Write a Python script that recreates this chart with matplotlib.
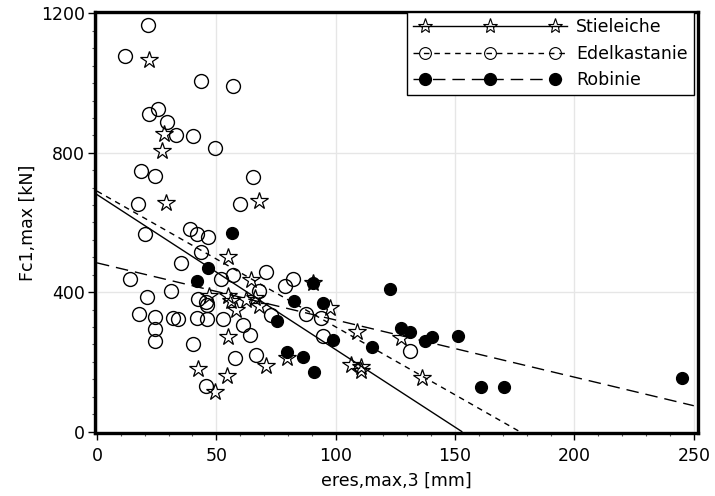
#!/usr/bin/env python3
import numpy as np
import matplotlib
matplotlib.use('Agg')
import matplotlib.pyplot as plt
from matplotlib.lines import Line2D
from matplotlib.legend_handler import HandlerLine2D
from matplotlib.ticker import MultipleLocator

# Stieleiche (open stars)
stiel_x = [21.8, 28.2, 27.1, 29.0, 67.9, 55.0, 46.8, 54.9, 56.3, 58.3, 64.6, 62.5,
           66.2, 68.0, 54.9, 42.2, 54.4, 49.5, 71.0, 79.8, 90.5, 97.8, 109.0, 106.4,
           110.4, 110.4, 127.5, 136.1]
stiel_y = [1065, 853, 804, 655, 662, 502, 388, 390, 375, 349, 435, 378,
           382, 359, 270, 178, 160, 112, 187, 211, 426, 354, 286, 192,
           185, 174, 268, 154]

# Edelkastanie (open circles)
edel_x = [21.25, 11.9, 43.5, 56.8, 25.5, 21.8, 29.4, 33.3, 40.4, 49.5, 18.5, 24.2,
          65.5, 17.2, 60.0, 19.9, 39.0, 41.7, 46.7, 43.5, 35.1, 13.9, 31.2, 20.8,
          52.0, 57.0, 70.8, 42.5, 45.5, 46.0, 17.6, 24.3, 32.0, 34.0, 41.7, 46.1,
          52.9, 24.4, 24.2, 40.4, 45.5, 61.3, 63.9, 57.6, 66.7, 68.0, 72.9, 78.8,
          81.9, 87.5, 94.0, 94.6, 131.0]
edel_y = [1166, 1078, 1006, 991, 927, 911, 888, 850, 848, 815, 747, 734,
          731, 653, 653, 567, 580, 566, 559, 516, 483, 437, 402, 386,
          438, 450, 458, 380, 372, 362, 338, 330, 326, 324, 326, 324,
          324, 294, 259, 251, 130, 305, 278, 211, 220, 402, 335, 419,
          437, 337, 326, 275, 232]

# Robinie (filled circles)
rob_x = [56.4, 46.5, 41.7, 75.4, 90.5, 82.6, 94.8, 98.7, 79.7, 86.2, 91.1, 115.2,
         122.9, 127.4, 131.2, 137.3, 140.4, 151.4, 160.9, 170.4, 245.1]
rob_y = [570, 470, 433, 316, 426, 374, 368, 263, 229, 214, 170, 243,
         410, 296, 287, 259, 271, 275, 127, 127, 154]

# regression lines (end points)
stiel_fit_x = [0, 152.8]
stiel_fit_y = [680, 0]
edel_fit_x = [0, 177]
edel_fit_y = [690, 0]
rob_fit_x = [0, 250]
rob_fit_y = [484, 74]


class HandlerLineOverhang(HandlerLine2D):
    # line runs a bit past the outer markers, like in the original legend
    def create_artists(self, legend, orig_handle, xdescent, ydescent, width, height, fontsize, trans):
        pad = 0.7 * fontsize
        xdata = np.array([0, pad, width / 2, width - pad, width]) - xdescent
        ydata = np.full_like(xdata, (height - ydescent) / 2)
        legline = Line2D(xdata, ydata)
        self.update_prop(legline, orig_handle, legend)
        legline.set_markevery([1, 2, 3])
        legline.set_transform(trans)
        return [legline]


plt.rc('font', family='DejaVu Sans', size=12.5)

fig = plt.figure(figsize=(7.15, 4.96), dpi=100)
ax = fig.add_axes([0.133, 0.127, 0.843, 0.849])

shortDash = (4, 3.5)
longDash = (9, 5)

# fit lines
ax.plot(stiel_fit_x, stiel_fit_y, color='black', lw=1.0, zorder=2)
ax.plot(edel_fit_x, edel_fit_y, color='black', lw=1.0, dashes=shortDash, zorder=2)
ax.plot(rob_fit_x, rob_fit_y, color='black', lw=1.0, dashes=longDash, zorder=2)

# points
ax.plot(edel_x, edel_y, ls='none', marker='o', ms=10, mfc='none', mec='black', mew=1.0, zorder=3)
ax.plot(rob_x, rob_y, ls='none', marker='o', ms=8.5, mfc='black', mec='black', mew=1.0, zorder=4)
ax.plot(stiel_x, stiel_y, ls='none', marker='*', ms=13, mfc='none', mec='black', mew=0.9, zorder=5)

ax.set_xlim(-0.8, 251.7)
ax.set_ylim(-4.3, 1204.3)
ax.xaxis.set_major_locator(MultipleLocator(50))
ax.yaxis.set_major_locator(MultipleLocator(400))
ax.xaxis.set_minor_locator(MultipleLocator(10))
ax.yaxis.set_minor_locator(MultipleLocator(50))
ax.grid(True, which='major', color='#e6e6e6', lw=1.0, zorder=0)
ax.set_axisbelow(True)

ax.tick_params(which='major', direction='out', length=5, width=1, pad=2)
ax.tick_params(axis='x', which='major', pad=5)
ax.tick_params(which='minor', direction='out', length=2.5, width=0.8, color='#555555')
for sp in ax.spines.values():
    sp.set_linewidth(2.4)
    sp.set_color('black')

ax.set_xlabel('eres,max,3 [mm]', labelpad=5)
ax.set_ylabel('Fc1,max [kN]', labelpad=3)

handles = [
    Line2D([], [], color='black', lw=1.0, marker='*', ms=11, mfc='none', mec='black', mew=0.8),
    Line2D([], [], color='black', lw=1.0, dashes=shortDash, marker='o', ms=8.5, mfc='none', mec='black', mew=0.8),
    Line2D([], [], color='black', lw=1.0, dashes=longDash, marker='o', ms=8.5, mfc='black', mec='black'),
]
leg = ax.legend(handles, ['Stieleiche', 'Edelkastanie', 'Robinie'], loc='upper right',
                bbox_to_anchor=(0.993, 1.0), borderaxespad=0,
                handler_map={Line2D: HandlerLineOverhang()},
                handlelength=8.9, handletextpad=0.5, labelspacing=0.5,
                borderpad=0.35, fancybox=False, framealpha=1, edgecolor='black')
leg.get_frame().set_linewidth(1.0)

fig.savefig('out.png', dpi=100)
